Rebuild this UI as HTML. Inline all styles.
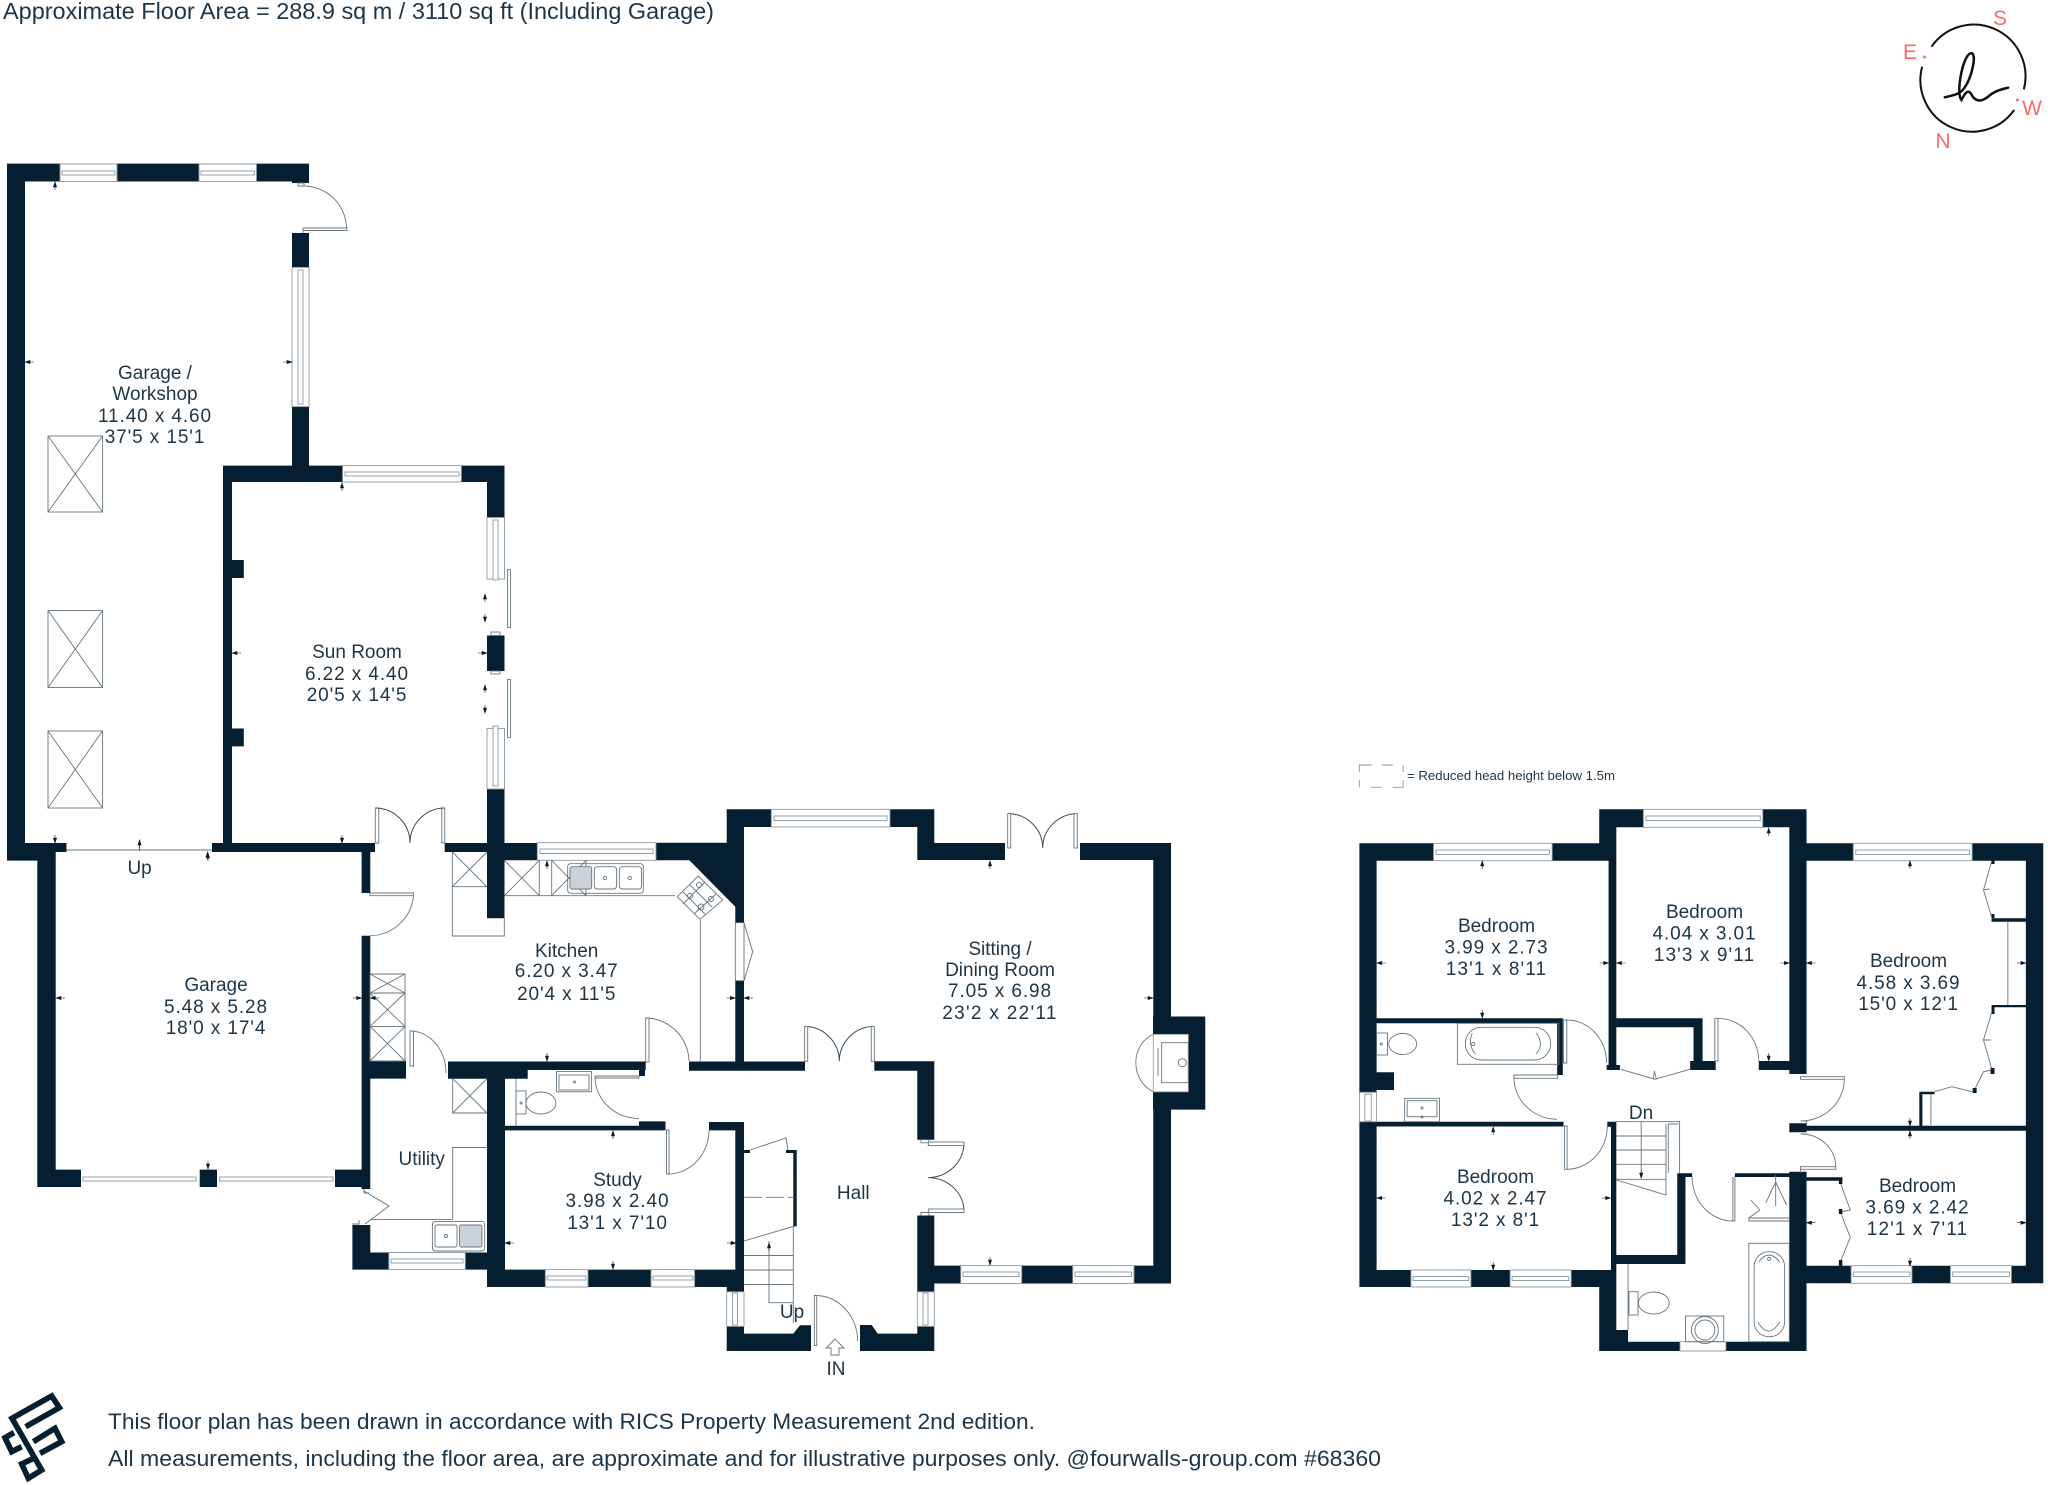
<!DOCTYPE html>
<html><head><meta charset="utf-8"><title>Floor Plan</title>
<style>
html,body{margin:0;padding:0;background:#fff}
svg{display:block}
.wall{fill:#051f31}
.l{fill:none;stroke:#66757f;stroke-width:.9}
.k{fill:none;stroke:#3a4d5a;stroke-width:1}
.w{fill:#fff;stroke:#8b98a1;stroke-width:.9}
.f{fill:#fff;stroke:#66757f;stroke-width:.9}
text{font-family:"Liberation Sans",sans-serif;fill:#1d3546;font-size:19px;text-anchor:middle}
.s{text-anchor:start}
.n{letter-spacing:.9px}
.m{letter-spacing:1.1px}
.c{fill:#f96a6a;font-size:21px}
.t{fill:#051f31;stroke:#051f31;stroke-width:.6}
</style></head><body>
<svg xmlns="http://www.w3.org/2000/svg" width="2048" height="1485" viewBox="0 0 2048 1485">
<defs>
<g id="u"><path class="t" d="M0 0l-1.6 5h3.2zM0 5v3"/></g>
<g id="d"><path class="t" d="M0 0l-1.6-5h3.2zM0-5v-3"/></g>
<g id="a"><path class="t" d="M0 0l5-1.6v3.2zM5 0h4"/></g>
<g id="b"><path class="t" d="M0 0l-5-1.6v3.2zM-5 0h-4"/></g>
</defs>
<rect width="2048" height="1485" fill="#fff"/>

<text class="s" x="3" y="19" style="font-size:23px" textLength="711" lengthAdjust="spacingAndGlyphs">Approximate Floor Area = 288.9 sq m / 3110 sq ft (Including Garage)</text>

<!-- compass -->
<g transform="translate(1881.500,0) scale(.3333)">
<path d="M150 140A155 155 0 0 1 427 268M398 330A155 155 0 0 1 122 200" fill="none" stroke="#111" stroke-width="6"/>
<path d="M190 292C215 285 235 285 250 262C270 232 285 170 272 160C255 155 240 205 235 245C232 270 232 290 240 300C250 280 258 268 268 280C278 302 295 310 320 290C340 272 360 268 380 263" fill="none" stroke="#111" stroke-width="7.500" stroke-linecap="round"/>
</g>
<circle cx="1924.500" cy="57" r="1.500" fill="#f96a6a"/><circle cx="2017.500" cy="100" r="1.500" fill="#f96a6a"/>
<text class="c" x="2000" y="25">S</text>
<text class="c" x="1910" y="59">E</text>
<text class="c" x="2032" y="115">W</text>
<text class="c" x="1943" y="148">N</text>

<!-- ============ GROUND FLOOR WALLS ============ -->
<path class="wall" d="
M7 163.6H309V183H292V181.5H7Z
M7 163.6H25V860.6H7Z
M7 843H66.5V852H7Z M7 852H55.7V860.6H7Z
M37.3 852H55.7V1187H37.3Z
M292 233H309V465.6H292Z
M223 465.6H504.5V482H223Z
M223 465.6H232V852H223Z
M232 560H243.8V578H232Z M232 728.5H243.8V746.4H232Z
M487 465.6H504.5V517.5H487Z
M487 635.5H504.5V671H487Z
M487 789H504.5V918.3H487Z
M212 843H375V852H212Z
M361.6 852H370.3V893H361.6Z
M361.6 935.7H370.3V1189H361.6Z
M444.7 843H537.3V852H444.7Z
M504 843H537.3V860.3H504Z
M656 842.7H726.7V809.3H744V922.7H735.3V906.7L689.3 860.3H656Z
M726.7 809.3H934.3V827H726.7Z
M735.3 980.7H744V1070H735.3Z
M689 1061.5H805V1070.7H689Z
M448 1061.5H645.7V1070H448Z
M448 1070H527.7V1078.7H448Z
M639 1070H645V1076H639Z
M361.6 1061H406V1078.6H361.6Z
M487 1070H505V1287H487Z
M505 1125.7H639V1130.4H505Z
M639 1121.4H665.5V1130.4H639Z
M709 1122H744V1130.4H709Z
M735.3 1122H744V1291.8H735.3Z
M37.3 1169.6H81V1187H37.3Z
M199.7 1169.6H217V1187H199.7Z
M335 1169.6H370.3V1187H335Z
M352.4 1225H370.3V1269.6H352.4Z
M352.4 1252.5H388.8V1269.6H352.4Z
M465.3 1252.5H487V1269.6H465.3Z
M487 1269.6H744V1287H487Z
M726.7 1283H744V1291.8H726.7Z
M726.7 1326.4H744V1333.6H793.3L800 1325.3H811V1351H726.7Z
M860 1325H871.7L877.7 1333.6H917.3V1326.4H934.3V1351H860Z
M917.3 1061.3H934.3V1139.8H917.3Z
M917.3 1215.5H934.3V1351H917.3Z
M874.3 1061.3H934.3V1070.7H874.3Z
M917.3 827H934.3V860H917.3Z
M934.3 843H1005V860H934.3Z
M1080 843H1171V860H1080Z
M1153.3 843H1171V1283.5H1153.3Z
M1153 1016.5H1205.3V1109.6H1153Z
M934.3 1265.6H1171V1283.5H934.3Z
M793.3 1150H796.7V1226.4H793.3Z
M786 1150H796.7V1153H786Z
M744 1150H750V1153H744Z
"/>

<!-- ground windows horizontal -->
<g>
<rect class="w" x="60" y="164" width="57" height="17.5"/><rect class="w" x="62" y="171" width="53" height="4"/>
<rect class="w" x="199" y="164" width="57.5" height="17.5"/><rect class="w" x="201" y="171" width="53.5" height="4"/>
<rect class="w" x="342.6" y="465.6" width="118.8" height="16.4"/><rect class="w" x="345" y="472" width="114" height="4"/>
<rect class="w" x="537.3" y="842.7" width="118.7" height="17.6"/><rect class="w" x="540" y="849" width="113" height="4.5"/>
<rect class="w" x="771.3" y="809.3" width="118.7" height="17.7"/><rect class="w" x="774" y="816" width="113" height="4.5"/>
<rect class="w" x="388.8" y="1252.5" width="76.5" height="17"/><rect class="w" x="391" y="1259" width="72" height="4"/>
<rect class="w" x="545.3" y="1269.6" width="42.7" height="17.4"/><rect class="w" x="547" y="1276" width="39" height="4"/>
<rect class="w" x="651" y="1269.6" width="43.6" height="17.4"/><rect class="w" x="653" y="1276" width="40" height="4"/>
<rect class="w" x="960.7" y="1265.6" width="61" height="17.9"/><rect class="w" x="963" y="1272" width="56" height="4.5"/>
<rect class="w" x="1072.7" y="1265.6" width="61.3" height="17.9"/><rect class="w" x="1075" y="1272" width="56.5" height="4.5"/>
<!-- garage door -->
<rect class="w" x="83" y="1177" width="113" height="4"/><rect class="w" x="219.6" y="1177" width="113.4" height="4"/>
<path class="l" d="M66.5 850H212"/>
</g>
<!-- ground windows vertical -->
<g>
<rect class="w" x="292" y="267.4" width="17" height="139.2"/><rect class="w" x="298" y="270" width="5" height="134"/>
<rect class="w" x="487" y="517.5" width="17.5" height="61.5"/><rect class="w" x="493" y="520" width="5" height="60"/>
<rect class="w" x="487" y="728.5" width="17.5" height="60.5"/><rect class="w" x="493" y="726" width="5" height="60"/>
<rect class="w" x="726.7" y="1291.8" width="17.3" height="34.6"/><rect class="w" x="732.5" y="1293" width="5" height="32"/>
<rect class="w" x="917.3" y="1291.8" width="17" height="34.6"/><rect class="w" x="923" y="1293" width="5" height="32"/>
<rect class="l" x="507.6" y="569.4" width="3" height="58"/>
<rect class="l" x="507.6" y="679.4" width="3" height="58"/>
<rect class="l" x="491" y="632" width="9" height="3.5"/><rect class="l" x="491" y="671" width="9" height="3"/>
</g>

<!-- skylights -->
<g class="l">
<rect x="48" y="436" width="54.6" height="76"/><path d="M48 436L102.6 512M102.6 436L48 512"/>
<rect x="48" y="610.5" width="54.6" height="77"/><path d="M48 610.5L102.6 687.5M102.6 610.5L48 687.5"/>
<rect x="48" y="731" width="54.6" height="77"/><path d="M48 731L102.6 808M102.6 731L48 808"/>
</g>

<!-- doors -->
<g class="l">
<path d="M298 183v3h6v-3zM303 228h44v2.5h-44zM303 228v5M303 186A43 43 0 0 1 346.500 228"/>
<path d="M375.3 808h3.500v35h-3.500zM441.800 808h3v35h-3z" fill="#fff"/>
<path d="M370 893h43.500v2.700H370zM413.500 895.700A44 44 0 0 1 370 935.700"/>
<path d="M645.700 1018H649V1062H645.700zM646 1018A44 44 0 0 1 689 1061"/>
<path d="M410 1031H413.500V1066H410zM411 1031A36 42 0 0 1 446 1073"/>
<path d="M595 1076H639V1078H595zM595 1078A44 42 0 0 0 639 1118.500"/>
<path d="M666.500 1130H669V1174H666.500zM669 1174A41 44 0 0 0 709 1130"/>
<path d="M364 1189v4h5M364 1191L389 1206L365 1224M352 1224h7v-4M814.300 1295.500H816.700V1345.600H814.300zM816 1295.500A42 46 0 0 1 857.700 1341"/>
<path d="M735.300 922.700H744V980.700H735.300zM744 922.700L752.700 951.700L744 980.700"/>
<path d="M921 1139.800v3h8v-3M921 1215.500v-3h8v3"/>
</g>
<g class="k">
<path d="M376 808A35 35 0 0 1 410 843M444 808A35 35 0 0 0 410 843"/>
<path d="M1008 813.600A35 34.400 0 0 1 1042.700 848M1077 813.600A35 34.400 0 0 0 1042.700 848"/>
<path d="M805 1026.400A35 35 0 0 1 839.300 1061.300M874 1026.400A35 35 0 0 0 839.300 1061.300"/>
<path d="M964 1143A36 35 0 0 1 928.300 1177.600M964 1211A36 34 0 0 0 928.300 1177.600"/>
</g>
<g class="f">
<rect x="1007.700" y="813.600" width="3" height="34.400"/><rect x="1074" y="813.600" width="3.300" height="34.400"/>
<rect x="804.700" y="1026.400" width="3" height="34.900"/><rect x="871.300" y="1026.400" width="3" height="34.900"/>
<rect x="928.300" y="1142" width="35.700" height="3.600"/><rect x="928.300" y="1209" width="35.700" height="3.500"/>
</g>

<!-- kitchen fittings -->
<g class="l">
<path d="M452.300 852V936H504.300V918.300M452.300 886.700H487M452.300 852L487 886.700M487 852L452.300 886.700"/>
<path d="M504.300 895.700H675M539.300 860.300V895.700M504.300 860.300L539.300 895.700M539.300 860.300L504.300 895.700M551.700 860.300V895.700M586 860.300V895.700M551.700 895.700L586 860.300M551.700 860.300L586 895.700"/>
<rect x="567.700" y="863.700" width="75.600" height="29.600" rx="3"/>
<rect x="570" y="866.700" width="21.700" height="22.300" rx="2" fill="#ccd3d8"/>
<rect x="594.300" y="866.700" width="22.300" height="22.300" rx="3"/>
<rect x="619.300" y="866.700" width="22.300" height="22.300" rx="3"/>
<circle cx="605" cy="878" r="1.700"/><circle cx="629.700" cy="878" r="1.700"/>
<path d="M698.300 876L722.700 900L700 919.300L677.300 896.700Z"/>
<circle cx="699" cy="885" r="2.500"/><circle cx="690" cy="896" r="2.500"/><circle cx="711" cy="899" r="2.500"/><circle cx="701" cy="907" r="3"/>
<path d="M690 885L712 907M683 892L705 914M705 882L683 904M716 894L694 914"/>
<path d="M700.300 920V1061"/>
<path d="M370 974H405V1061H370ZM370 993H405M370 1026.400H405M370 974L405 993M405 974L370 993M370 993L405 1026.400M405 993L370 1026.400M370 1026.400L405 1061M405 1026.400L370 1061"/>
<path d="M452.700 1078.600V1113H487M452.700 1078.600L487 1113M487 1078.600L452.700 1113"/>
<path d="M487 1147.500H452.700V1219.600H370"/>
<rect x="432.400" y="1221.400" width="52.300" height="29.600" rx="3"/>
<rect x="435" y="1225" width="22" height="22" rx="2"/><rect x="459.500" y="1225" width="22.500" height="22" rx="2" fill="#ccd3d8"/>
<circle cx="446" cy="1236" r="1.500"/>
<!-- WC -->
<path d="M516 1078.600V1125.700"/>
<rect x="556.500" y="1071.400" width="34.900" height="20.400"/><rect x="559" y="1075" width="30" height="15"/><circle cx="574.500" cy="1082" r="1"/>
<rect x="516" y="1091" width="10" height="23"/><ellipse cx="541" cy="1103" rx="15" ry="11"/><circle cx="521" cy="1103" r="1"/>
<!-- fireplace -->
<path d="M1153.300 1034.400C1130 1045 1130 1080 1153.300 1091.800"/>
<rect x="1153.300" y="1034.400" width="35" height="57.400" fill="#fff" stroke="#9aa5ad"/>
<path d="M1161.700 1042.700H1188.300V1082.700H1161.700ZM1158 1048V1076"/>
<circle cx="1182.300" cy="1062.700" r="4"/>
<!-- hall stairs -->
<path d="M750 1150L786 1138L788 1150"/>
<path d="M744 1197.300H794" stroke-dasharray="18 4"/>
<path d="M744 1241L793.300 1226.400V1284.500H744M744 1255.500H793.300M744 1270H793.300M793.300 1226.400V1323M769 1241V1302.700H793"/>
<path d="M835 1339l-9 9h5v7h8v-7h5z"/>
</g>

<!-- ground ticks -->
<g>
<use href="#u" x="55" y="182"/><use href="#d" x="55" y="843"/><use href="#u" x="342" y="483"/><use href="#d" x="342" y="843"/>
<use href="#u" x="139.500" y="840"/><path class="t" d="M139.500 845V851"/><use href="#u" x="207.600" y="852"/>
<use href="#a" x="25" y="362"/><use href="#b" x="292" y="362"/><use href="#a" x="232" y="653"/><use href="#b" x="487" y="653"/>
<use href="#u" x="485" y="594"/><use href="#d" x="485" y="622"/><use href="#u" x="485" y="685"/><use href="#d" x="485" y="713"/>
<use href="#a" x="56" y="998"/><use href="#b" x="361.600" y="998"/><use href="#a" x="370.300" y="998"/>
<use href="#d" x="547" y="1061"/><use href="#u" x="547" y="861"/><use href="#d" x="208" y="1169"/><use href="#u" x="208" y="853"/>
<use href="#u" x="613" y="1131"/><use href="#d" x="613" y="1269"/><use href="#a" x="505" y="1243"/><use href="#b" x="736" y="1243"/>
<use href="#b" x="735.300" y="998"/><use href="#a" x="744" y="998"/>
<use href="#u" x="990" y="861"/><use href="#d" x="990" y="1265"/><use href="#b" x="1153" y="998"/><use href="#u" x="769" y="1243"/>
</g>

<!-- ============ FIRST FLOOR ============ -->
<g transform="translate(1340,0) scale(.99472,1) translate(-1340,0)">
<path class="wall" d="
M1359.500 843.300H1617.800V860.700H1359.500Z
M1600.600 809.300H1809V827.300H1600.600Z
M1600.600 809.300H1617.800V860.700H1600.600Z
M1610 843.300H1617.800V1070H1610Z
M1791.700 809.300H1809V1074H1791.700Z
M1809 843.300H2047V860.700H1809Z
M2029.500 843.300H2047V1283.300H2029.500Z
M1359.500 843.300H1376.800V1092.300H1359.500Z
M1359.500 1121.700H1376.800V1287H1359.500Z
M1376.800 1072.300H1394.300V1090H1376.800Z
M1359.500 1121.700H1564.700V1126.500H1359.500Z
M1376.800 1018.300H1562.300V1023.300H1376.800Z
M1558.300 1018.300H1564V1075H1558.300Z
M1617.800 1018.300H1704.500V1027.300H1617.800Z
M1695.400 1018.300H1704.500V1070H1695.400Z
M1692 1061H1717.700V1070H1692Z
M1608 1065H1621.400V1070H1608Z
M1761 1061H1791.700V1070H1761Z
M1608.700 1121.700H1617.800V1126.700H1608.700Z
M1612.400 1121.700H1617.800V1270H1612.400Z
M1359.500 1270H1617.800V1287H1359.500Z
M1600.600 1270H1617.800V1351H1600.600Z
M1600.600 1341.700H1809V1351H1600.600Z
M1617.800 1330H1629.600V1342H1617.800Z
M1617.800 1255H1687.300V1264H1617.800Z
M1679 1173.300H1687.300V1264H1679Z
M1679 1173.300H1694V1177H1679Z
M1737 1173.300H1791.700V1177H1737Z
M1791.700 1171.700H1809V1351H1791.700Z
M1791.700 1123.300H1809V1132.300H1791.700Z
M1809 1125.700H2029.500V1130.700H1809Z
M1922.400 1091.700H1937.800V1094.300H1922.400Z
M1922.400 1091.700H1925.500V1126.700H1922.400Z
M1995 918.300H2029.500V921.700H1995Z
M1995 1005H2029.500V1007.300H1995Z
M1809 1177.300H1845V1180.700H1809Z
M1809 1265.700H2047V1283.300H1809Z
"/>
<g>
<rect class="w" x="1434" y="843.300" width="119.300" height="17.400"/><rect class="w" x="1436.500" y="850" width="114" height="4.500"/>
<rect class="w" x="1645" y="809.300" width="120" height="18"/><rect class="w" x="1647.500" y="816" width="115" height="4.500"/>
<rect class="w" x="1856" y="843.300" width="119.500" height="17.400"/><rect class="w" x="1858.500" y="850" width="114.500" height="4.500"/>
<rect class="w" x="1411.300" y="1270" width="60.300" height="17"/><rect class="w" x="1413.500" y="1276.500" width="56" height="4"/>
<rect class="w" x="1511" y="1270" width="61.400" height="17"/><rect class="w" x="1513" y="1276.500" width="57" height="4"/>
<rect class="w" x="1853.800" y="1265.700" width="61.200" height="17.600"/><rect class="w" x="1856" y="1272" width="57" height="4.500"/>
<rect class="w" x="1953.700" y="1265.700" width="61.300" height="17.600"/><rect class="w" x="1956" y="1272" width="57" height="4.500"/>
<rect class="w" x="1681.800" y="1341.700" width="46.200" height="9.300"/>
<rect class="w" x="1359.500" y="1092.300" width="17.300" height="29.400"/><rect class="w" x="1365" y="1094" width="6.500" height="27"/>
</g>
<g class="l">
<!-- ensuite -->
<rect x="1458" y="1023.300" width="102" height="41"/>
<rect x="1466" y="1027.300" width="85.700" height="32.700" rx="16"/>
<path d="M1473 1033Q1468 1044 1476 1054M1537 1033Q1546 1044 1537 1054"/><circle cx="1474" cy="1044" r="1.700"/>
<rect x="1376.800" y="1033" width="11" height="22"/><ellipse cx="1403" cy="1044" rx="14" ry="10.500"/><circle cx="1381.500" cy="1044" r="1"/>
<rect x="1405" y="1098.300" width="35" height="23.400"/><rect x="1407.500" y="1100.700" width="30" height="16"/><circle cx="1422.500" cy="1108" r="1"/><circle cx="1422.500" cy="1117" r="1"/>
<path d="M1564.700 1020H1568V1063H1564.700ZM1568 1020A40 43 0 0 1 1608 1063"/>
<path d="M1514.800 1075H1558.800V1078.300H1514.800ZM1514.800 1078A44 42 0 0 0 1558 1119.300"/>
<path d="M1565.600 1126H1568.300V1169.300H1565.600ZM1568 1169.300A41 43 0 0 0 1608.700 1126"/>
<path d="M1716.800 1018.300H1720V1061H1716.800ZM1720 1018.300A41 43 0 0 1 1761 1061"/>
<path d="M1622.300 1069.300L1656.400 1079.300L1691.800 1069.300M1655 1079L1656 1071L1658 1079"/>
<path d="M1803 1076.700H1847V1079.300H1803ZM1847 1079.300A44 42 0 0 1 1803 1121M1803 1121H1809V1125M1803 1134H1809"/>
<path d="M1803 1166.700H1838.400V1169.300H1803ZM1803 1134A35 33 0 0 1 1838.400 1166.700M1803 1169.300V1173"/>
<path d="M1735 1177V1221H1737V1177M1694 1177A41 44 0 0 0 1735 1221"/>
<path d="M1751 1218H1791.700V1221H1751ZM1751 1218L1762 1210L1753 1200M1778 1182V1175M1778 1182L1768 1203M1778 1182L1778 1206M1778 1182L1789 1205"/>
<!-- bathroom -->
<rect x="1751" y="1243.300" width="40.700" height="98.400"/>
<rect x="1756.300" y="1251.700" width="30.700" height="85" rx="15"/><circle cx="1771.500" cy="1259" r="1.700"/>
<path d="M1761 1262Q1771 1248 1782 1262M1760 1322Q1771 1340 1782 1322"/>
<path d="M1629.600 1264V1330"/>
<rect x="1630.500" y="1291.700" width="9.100" height="23.300"/><ellipse cx="1655.500" cy="1303" rx="15.500" ry="11"/>
<rect x="1687.300" y="1316" width="38.500" height="25.700"/><circle cx="1706.800" cy="1330" r="13.500"/><circle cx="1706.800" cy="1330" r="10"/>
<!-- stairs -->
<path d="M1617.800 1121.700H1681.400V1173M1617.800 1136H1667.700M1617.800 1150H1667.700M1617.800 1164.300H1667.700M1617.800 1179.300H1667.700M1667.700 1124V1195L1617.800 1180M1670 1124H1680M1670 1124V1173M1642.800 1122V1178"/>
<!-- wardrobes -->
<path d="M1995 861.700L1986.900 890L1995 916.700M1987 890L1993 889M2011.400 921.700V1005"/>
<path d="M1995 1013L1986.900 1040L1996 1071.700M1987 1040L1994 1040M1996 1070L1987 1071.700L1977.800 1090M1975.500 1091.700L1955 1086.700L1937.800 1091.700M1934 1094.300V1125"/>
<path d="M1843 1182.700L1853 1210L1843 1212L1853 1237.300L1843 1261.700"/>
<!-- legend -->
<path d="M1359.500 772V765H1372M1382 765H1393M1403.500 765V772M1403.500 780V787.300H1393M1382 787.300H1371M1359.500 787.300V780" stroke="#8b98a1"/>
</g>
<path class="wall" d="M1995 859H1998V864H1995ZM1995 914H1998V918.300H1995ZM1995 1007H1998V1014H1995ZM1994 1068H1998V1074H1994ZM1976 1088H1980V1093H1976ZM1841.500 1178H1845V1184H1841.500ZM1841.500 1209H1845V1214H1841.500ZM1841.500 1260H1845V1266H1841.500Z"/>
<g>
<use href="#u" x="1483" y="861"/><use href="#d" x="1483" y="1018"/><use href="#u" x="1771" y="828"/><use href="#d" x="1771" y="1061"/><use href="#u" x="1913" y="861"/>
<use href="#a" x="1377" y="963"/><use href="#b" x="1610" y="963"/><use href="#a" x="1618" y="963"/><use href="#b" x="1791.700" y="963"/><use href="#a" x="1809" y="963"/><use href="#b" x="2029.500" y="963"/>
<use href="#u" x="1494" y="1127"/><use href="#d" x="1494" y="1270"/><use href="#a" x="1377" y="1198"/><use href="#b" x="1612" y="1198"/>
<use href="#a" x="1809" y="1222.700"/><use href="#b" x="2029.500" y="1222.700"/>
<use href="#d" x="1913" y="1126"/><use href="#u" x="1913" y="1131"/><use href="#d" x="1913" y="1266"/><use href="#d" x="1642.800" y="1178"/>
</g>
</g>

<!-- labels -->
<g>
<text x="155" y="379">Garage /</text><text x="155" y="400">Workshop</text><text class="n" x="155" y="422">11.40 x 4.60</text><text class="n" x="155" y="443">37'5 x 15'1</text>
<text x="357" y="658">Sun Room</text><text class="n" x="357" y="680">6.22 x 4.40</text><text class="n" x="357" y="701">20'5 x 14'5</text>
<text x="216" y="991">Garage</text><text class="n" x="216" y="1013">5.48 x 5.28</text><text class="n" x="216" y="1034">18'0 x 17'4</text>
<text x="566.700" y="957">Kitchen</text><text class="n" x="566.700" y="977">6.20 x 3.47</text><text class="n" x="566.700" y="1000">20'4 x 11'5</text>
<text x="617.500" y="1186">Study</text><text class="n" x="617.500" y="1207">3.98 x 2.40</text><text class="n" x="617.500" y="1229">13'1 x 7'10</text>
<text x="421.700" y="1165">Utility</text>
<text x="139.600" y="874">Up</text>
<text x="853.300" y="1199">Hall</text>
<text x="1000" y="955">Sitting /</text><text x="1000" y="976">Dining Room</text><text class="n" x="1000" y="997">7.05 x 6.98</text><text x="1000" y="1019" style="letter-spacing:1.3px">23'2 x 22'11</text>
<text x="836" y="1375">IN</text>
<text x="792" y="1318">Up</text>
<text x="1641" y="1119">Dn</text>
<text x="1496.500" y="932">Bedroom</text><text class="n" x="1496.500" y="953.500">3.99 x 2.73</text><text class="m" x="1496.500" y="975">13'1 x 8'11</text>
<text x="1704.500" y="918">Bedroom</text><text class="n" x="1704.500" y="939.500">4.04 x 3.01</text><text class="m" x="1704.500" y="961">13'3 x 9'11</text>
<text x="1908.500" y="967">Bedroom</text><text class="n" x="1908.500" y="989">4.58 x 3.69</text><text class="n" x="1908.500" y="1010">15'0 x 12'1</text>
<text x="1495.500" y="1183">Bedroom</text><text class="n" x="1495.500" y="1204.500">4.02 x 2.47</text><text class="n" x="1495.500" y="1226">13'2 x 8'1</text>
<text x="1917.500" y="1192">Bedroom</text><text class="n" x="1917.500" y="1213.500">3.69 x 2.42</text><text class="m" x="1917.500" y="1235">12'1 x 7'11</text>
<text class="s" x="1407" y="780" style="font-size:13px" textLength="208" lengthAdjust="spacingAndGlyphs">= Reduced head height below 1.5m</text>
<text class="s" x="108" y="1429" style="font-size:22px" textLength="927" lengthAdjust="spacingAndGlyphs">This floor plan has been drawn in accordance with RICS Property Measurement 2nd edition.</text>
<text class="s" x="108" y="1466" style="font-size:22px" textLength="1273" lengthAdjust="spacingAndGlyphs">All measurements, including the floor area, are approximate and for illustrative purposes only. @fourwalls-group.com #68360</text>
</g>

<!-- logo -->
<g transform="translate(0,1385) scale(.3333)" fill="none" stroke="#051f31" stroke-width="17" stroke-linejoin="miter">
<path d="M77 125L178 68L155 33L36 100L125 255L85 280L65 237L97 222"/>
<path d="M120 205L185 170L165 130L100 170"/>
<path d="M42 143L15 158L35 200L65 185"/>
</g>
</svg>
</body></html>
